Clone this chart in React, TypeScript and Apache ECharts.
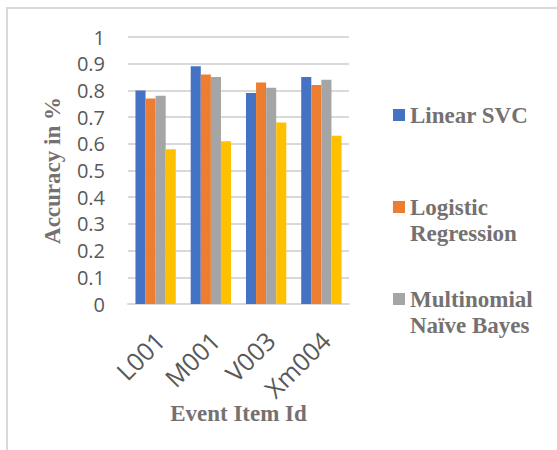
import React, { useEffect, useRef } from "react";
import * as echarts from "echarts";

const categories = ["L001", "M001", "V003", "Xm004"];
const seriesNames = ["Linear SVC", "Logistic Regression", "Multinomial Naïve Bayes", "Model 4"];
const linearSVC = [0.8, 0.89, 0.79, 0.85];
const logisticRegression = [0.77, 0.86, 0.83, 0.82];
const multinomialNB = [0.78, 0.85, 0.81, 0.84];
const fourthModel = [0.58, 0.61, 0.68, 0.63];
const seriesColors = ["#4472C4", "#ED7D31", "#A5A5A5", "#FFC000"];
const legendNames = ["Linear SVC", "Logistic\nRegression", "Multinomial\nNaïve Bayes"];

const textGray = "#767171";
const tickGray = "#595959";
const gridGray = "#D9D9D9";
const serif = "Liberation Serif";
const sans = "Open Sans";

export default function App() {
  const ref = useRef<HTMLDivElement>(null);
  useEffect(() => {
    if (!ref.current) return;
    const chart = echarts.init(ref.current, undefined, { renderer: "svg" });
    const values = [linearSVC, logisticRegression, multinomialNB, fourthModel];
    const legendX = 393;
    const legendTops = [109, 201, 293];
    const legendGraphics = legendNames.flatMap((label, i) => [
      {
        type: "rect",
        shape: { x: legendX, y: legendTops[i], width: 12, height: 12 },
        style: { fill: seriesColors[i] },
        silent: true,
      },
      {
        type: "text",
        x: legendX + 17,
        y: legendTops[i] + 6 - 13.25,
        style: {
          text: label,
          fill: textGray,
          font: `bold 23px '${serif}'`,
          lineHeight: 26.5,
          verticalAlign: "top",
          align: "left",
        },
        silent: true,
      },
    ]);
    chart.setOption({
      animation: false,
      backgroundColor: "#ffffff",
      grid: { left: 128, right: 208, top: 37, bottom: 146, containLabel: false },
      graphic: [
        {
          type: "rect",
          shape: { x: 7, y: 8, width: 700, height: 600 },
          style: { fill: "none", stroke: gridGray, lineWidth: 2 },
          silent: true,
          z: -10,
        },
        ...legendGraphics,
      ],
      xAxis: {
        type: "category",
        data: categories,
        name: "Event Item Id",
        nameLocation: "middle",
        nameGap: 98,
        nameMoveOverlap: false,
        nameTextStyle: {
          color: textGray,
          fontFamily: serif,
          fontWeight: "bold",
          fontSize: 23,
        },
        axisLine: { lineStyle: { color: gridGray, width: 2 } },
        axisTick: { show: false },
        axisLabel: {
          rotate: 45,
          margin: 36,
          padding: [0, -6, 0, 0],
          color: tickGray,
          fontFamily: sans,
          fontSize: 25,
          interval: 0,
        },
      },
      yAxis: {
        type: "value",
        min: 0,
        max: 1,
        interval: 0.1,
        name: "Accuracy in %",
        nameLocation: "middle",
        nameGap: 64,
        nameRotate: 90,
        nameMoveOverlap: false,
        nameTextStyle: {
          color: textGray,
          fontFamily: serif,
          fontWeight: "bold",
          fontSize: 23,
        },
        axisLine: { show: false },
        axisTick: { show: false },
        splitLine: { lineStyle: { color: gridGray, width: 2 } },
        axisLabel: {
          margin: 23,
          color: tickGray,
          fontFamily: sans,
          fontSize: 20,
        },
      },
      series: seriesNames.map((name, i) => ({
        name,
        type: "bar",
        data: values[i],
        barGap: "0%",
        barCategoryGap: "27%",
        itemStyle: { color: seriesColors[i] },
      })),
    });
    return () => chart.dispose();
  }, []);
  return (
    <div
      ref={ref}
      style={{ position: "fixed", left: 0, top: 0, width: 557, height: 450 }}
    />
  );
}
